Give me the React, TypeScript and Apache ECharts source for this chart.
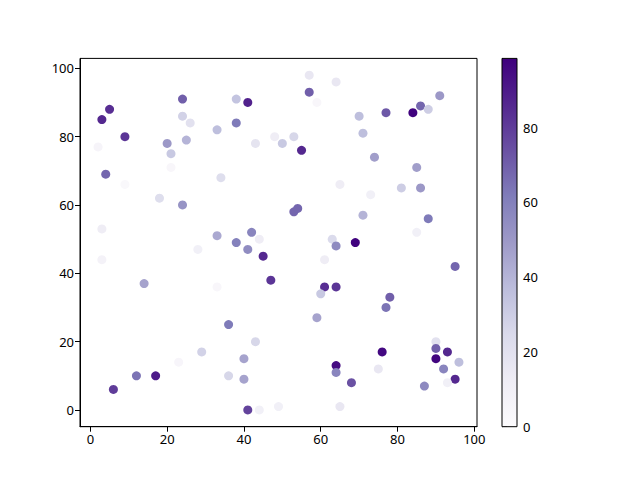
import React, { useEffect, useRef } from "react";
import * as echarts from "echarts";

const xValues = [5, 3, 9, 2, 4, 9, 3, 24, 24, 26, 20, 25, 21, 21, 18, 24, 34, 33, 38, 41, 38, 43, 48, 50, 33, 38, 42, 44, 41, 28,
  45, 3, 14, 33, 47, 36, 43, 29, 23, 40, 36, 40, 12, 17, 6, 41, 44, 49,
  57, 64, 57, 59, 70, 77, 84, 86, 88, 91, 71, 53, 55, 74, 85, 65, 73, 81, 86, 53, 54, 71, 88, 85, 63, 64, 69,
  61, 95, 61, 64, 60, 78, 77, 59, 90, 90, 93, 76, 90, 96, 64, 64, 75, 92, 95, 93, 68, 87, 65];
const yValues = [88, 85, 80, 77, 69, 66, 53, 91, 86, 84, 78, 79, 75, 71, 62, 60, 68, 82, 91, 90, 84, 78, 80, 78, 51, 49, 52, 50, 47, 47,
  45, 44, 37, 36, 38, 25, 20, 17, 14, 15, 10, 9, 10, 10, 6, 0, 0, 1,
  98, 96, 93, 90, 86, 87, 87, 89, 88, 92, 81, 80, 76, 74, 71, 66, 63, 65, 65, 58, 59, 57, 56, 52, 50, 48, 49,
  44, 42, 36, 36, 34, 33, 30, 27, 20, 18, 17, 17, 15, 14, 13, 11, 12, 12, 9, 8, 8, 7, 1];
const colorValues = [84, 86, 82, 6, 68, 3, 12, 70, 28, 20, 50, 40, 32, 4, 22, 52, 22, 36, 34, 88, 62, 18, 12, 32, 44, 60, 58, 12, 55, 10,
  86, 8, 46, 4, 82, 62, 26, 28, 5, 46, 26, 46, 64, 90, 80, 78, 10, 10,
  16, 16, 70, 4, 36, 72, 98, 68, 30, 50, 36, 26, 86, 48, 48, 12, 10, 30, 50, 68, 68, 40, 62, 10, 24, 56, 98,
  12, 68, 84, 82, 32, 70, 64, 46, 20, 70, 86, 96, 97, 36, 95, 58, 16, 58, 86, 10, 74, 56, 16];

const colorTicks = [0, 20, 40, 60, 80];
const xTicks = [0, 20, 40, 60, 80, 100];
const yTicks = [0, 20, 40, 60, 80, 100];

const purples = ["#fcfbfd", "#efedf5", "#dadaeb", "#bcbddc", "#9e9ac8", "#807dba", "#6a51a3", "#54278f", "#3f007d"];
const cMin = 0;
const cMax = 98.5;

export default function App() {
  const ref = useRef<HTMLDivElement>(null);
  useEffect(() => {
    if (!ref.current) return;
    const chart = echarts.init(ref.current, undefined, { renderer: "svg" });
    const points = xValues.map((x, i) => [x, yValues[i], colorValues[i]]);
    const font = "Noto Sans";
    const axisCommon = {
      axisLine: { show: true, onZero: false, lineStyle: { color: "#000", width: 1 } },
      splitLine: { show: false },
    };
    const stops = purples
      .map((c, i) => ({ offset: 1 - i / (purples.length - 1), color: c }))
      .reverse();
    chart.setOption({
      animation: false,
      backgroundColor: "#fff",
      grid: [
        { left: 80, top: 58.4, width: 397, height: 368.3, show: true, borderColor: "#000", borderWidth: 1, containLabel: false },
        { left: 502, top: 58.4, width: 15, height: 368.3, show: false, containLabel: false },
      ],
      xAxis: [
        {
          ...axisCommon,
          gridIndex: 0,
          type: "value",
          min: -2.7,
          max: 100.7,
          axisTick: { show: true, inside: false, length: 5, customValues: xTicks, lineStyle: { color: "#000" } },
          axisLabel: { customValues: xTicks, color: "#000", fontSize: 13, fontFamily: font, margin: 6 },
        },
        { gridIndex: 1, type: "value", min: 0, max: 1, show: false },
      ],
      yAxis: [
        {
          ...axisCommon,
          gridIndex: 0,
          type: "value",
          min: -4.9,
          max: 102.9,
          axisTick: { show: true, inside: false, length: 5, customValues: yTicks, lineStyle: { color: "#000" } },
          axisLabel: { customValues: yTicks, color: "#000", fontSize: 13, fontFamily: font, margin: 6 },
        },
        {
          gridIndex: 1,
          type: "value",
          position: "right",
          min: cMin,
          max: cMax,
          axisLine: { show: true, lineStyle: { color: "#000", width: 1 } },
          splitLine: { show: false },
          axisTick: { show: true, inside: false, length: 5, customValues: colorTicks, lineStyle: { color: "#000" } },
          axisLabel: { customValues: colorTicks, color: "#000", fontSize: 13, fontFamily: font, margin: 6 },
        },
      ],
      visualMap: {
        type: "continuous",
        show: false,
        seriesIndex: 0,
        dimension: 2,
        min: cMin,
        max: cMax,
        inRange: { color: purples },
      },
      series: [
        {
          type: "scatter",
          xAxisIndex: 0,
          yAxisIndex: 0,
          symbol: "circle",
          symbolSize: 9,
          data: points,
          itemStyle: { opacity: 1 },
          z: 3,
        },
        {
          type: "custom",
          xAxisIndex: 1,
          yAxisIndex: 1,
          data: [[0, cMin]],
          renderItem: (params: any, api: any) => {
            const p0 = api.coord([0, cMax]);
            const p1 = api.coord([1, cMin]);
            return {
              type: "rect",
              shape: { x: p0[0], y: p0[1], width: p1[0] - p0[0], height: p1[1] - p0[1] },
              style: { fill: new echarts.graphic.LinearGradient(0, 0, 0, 1, stops), stroke: "#000", lineWidth: 1 },
            };
          },
          z: 2,
        },
      ],
    });
    return () => chart.dispose();
  }, []);
  return <div ref={ref} style={{ width: 640, height: 480, position: "absolute", left: 0, top: 0 }} />;
}
